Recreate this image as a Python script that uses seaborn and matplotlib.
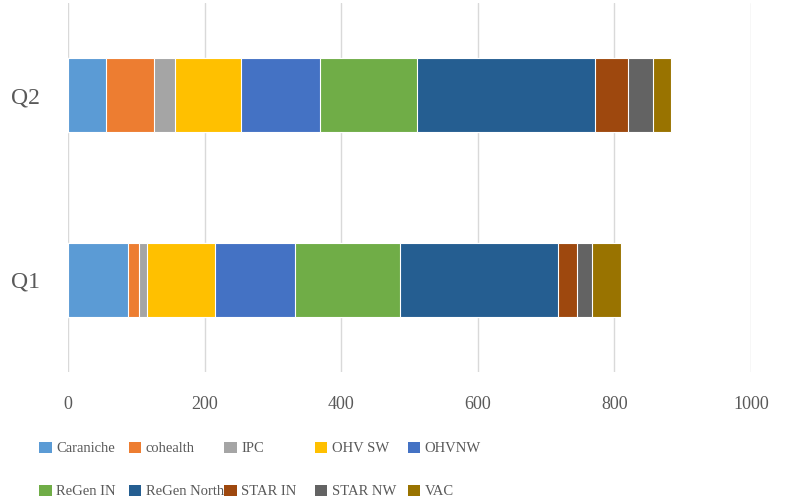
import pandas as pd
import matplotlib
matplotlib.use('Agg')
import matplotlib.pyplot as plt
import matplotlib.patches as mpatches
import seaborn as sns

# data
quarters = ['Q2', 'Q1']
services = ['Caraniche', 'cohealth', 'IPC', 'OHV SW', 'OHVNW',
            'ReGen IN', 'ReGen North', 'STAR IN', 'STAR NW', 'VAC']
q2_values = [55, 71, 30, 98, 115, 142, 260, 49, 36, 27]
q1_values = [88, 16, 12, 99, 117, 154, 232, 28, 21, 42]
colors = ['#5B9BD5', '#ED7D31', '#A5A5A5', '#FFC000', '#4472C4',
          '#70AD47', '#255E91', '#9E480E', '#636363', '#997300']

sns.set_theme(style='white')
plt.rcParams['font.family'] = ['Liberation Serif', 'DejaVu Serif']
txt = '#595959'

df = pd.DataFrame({'quarter': quarters,
                   **{s: [a, b] for s, a, b in zip(services, q2_values, q1_values)}})
cum = df[services].cumsum(axis=1)
cum['quarter'] = df['quarter']

fig = plt.figure(figsize=(7.87, 5.04), dpi=100)
ax = fig.add_axes([0.0864, 0.261, 0.8678, 0.734])

# stacked bars: draw cumulative totals from the longest down
for s, c in reversed(list(zip(services, colors))):
    sns.barplot(data=cum, y='quarter', x=s, order=quarters, color=c,
                saturation=1, width=0.4, edgecolor='white', linewidth=0.8, ax=ax)

ax.set_xlim(0, 1000)
ax.set_xticks(range(0, 1001, 200))
ax.set_xlabel('')
ax.set_ylabel('')
ax.grid(True, axis='x', color='#D9D9D9', linewidth=1)
ax.set_axisbelow(True)
for sp in ax.spines.values():
    sp.set_visible(False)
ax.tick_params(axis='x', length=0, pad=17, labelsize=13, labelcolor=txt)
ax.tick_params(axis='y', length=0, pad=20, labelsize=17, labelcolor=txt)

# legend: five columns of two entries each
col_x = [0.050, 0.164, 0.285, 0.400, 0.518]
for i, x in enumerate(col_x):
    idx = [i, i + 5]
    handles = [mpatches.Patch(facecolor=colors[j], edgecolor='none') for j in idx]
    fig.legend(handles, [services[j] for j in idx], loc='upper left',
               bbox_to_anchor=(x, 0.124), frameon=False, fontsize=10.5,
               handlelength=0.85, handleheight=0.85, handletextpad=0.3,
               labelspacing=2.0, borderpad=0, borderaxespad=0,
               labelcolor=txt)

fig.savefig('out.png', dpi=100)
